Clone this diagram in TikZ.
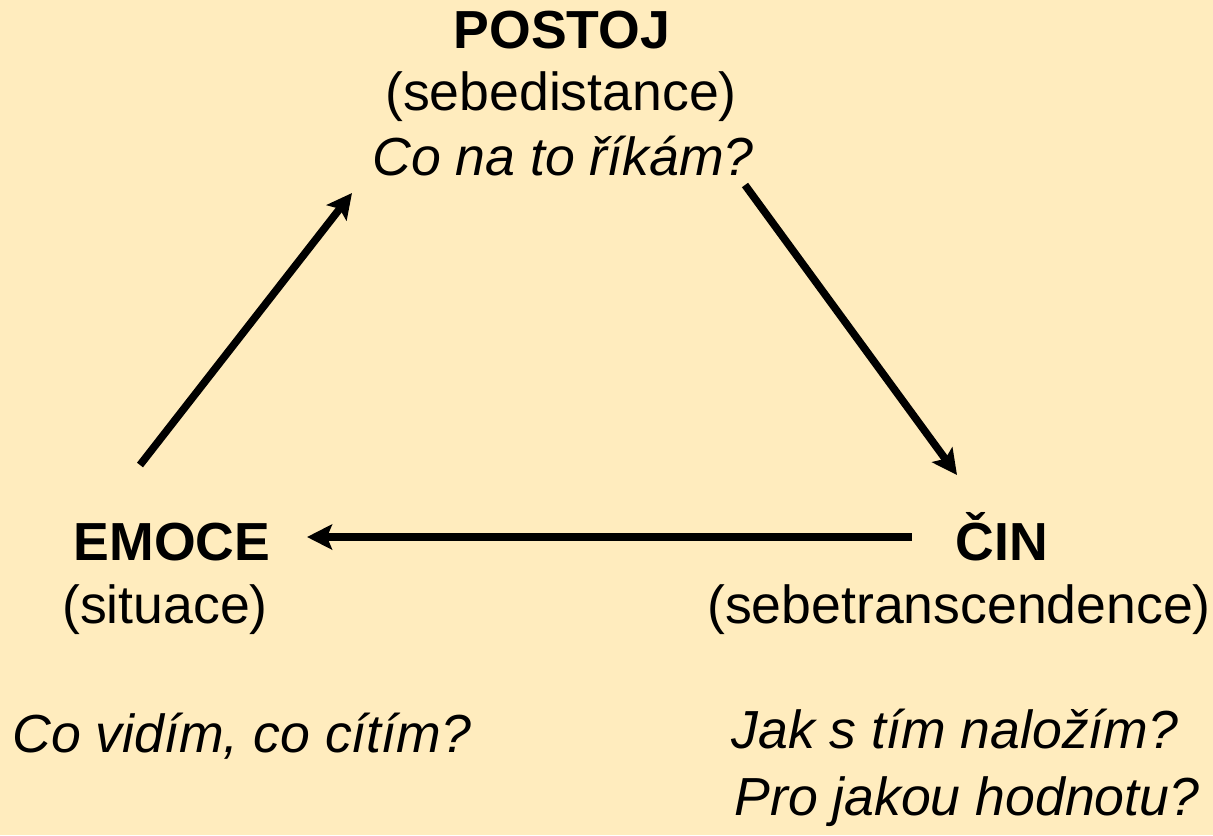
\documentclass[tikz,border=0pt]{standalone}
\usepackage{fontspec}
\setmainfont{Liberation Sans}
\usepackage{tikz}
\usetikzlibrary{arrows.meta}

\definecolor{paper}{HTML}{FFECBE}

\tikzset{
  lbl/.style = {anchor = base, inner sep = 0pt, font = \fontsize{26.8}{31}\selectfont},
  head/.style = {lbl, font = \fontsize{26.8}{31}\selectfont\bfseries},
  ask/.style = {lbl, font = \fontsize{26.8}{31}\selectfont\itshape},
  flow/.style = {line width = 3.8pt, -{Stealth[length = 12.5pt, width = 12.5pt, inset = 2.5pt]}}
}

\begin{document}
\begin{tikzpicture}[x = 0.5pt, y = -0.5pt]
\fill[paper] (0,0) rectangle (1213,835);
\useasboundingbox (0,0) rectangle (1213,835);

% top
\node[head] (postoj) at (562, 48) {POSTOJ};
\node[lbl] (postojsub) at (561, 110) {(sebedistance)};
\node[ask] (postojask) at (563, 175) {Co na to říkám?};

% left
\node[head] (emoce) at (172, 560) {EMOCE};
\node[lbl] (emocesub) at (165, 623) {(situace)};
\node[ask, anchor = base west] (emoceask) at (12, 752) {Co vidím, co cítím?};

% right
\node[head] (cin) at (1002, 560) {ČIN};
\node[lbl] (cinsub) at (959, 623) {(sebetranscendence)};
\node[ask, anchor = base west] (cinask) at (731, 748) {Jak s tím naložím?};
\node[ask, anchor = base west] (cinhod) at (734, 815) {Pro jakou hodnotu?};

\coordinate (el) at (140, 465);
\coordinate (pl) at (352, 193);
\coordinate (pr) at (745, 185);
\coordinate (cr) at (957, 475);
\coordinate (cl) at (912, 537);
\coordinate (er) at (307, 537);

\draw[flow] (el) -- (pl);
\draw[flow] (pr) -- (cr);
\draw[flow] (cl) -- (er);
\end{tikzpicture}
\end{document}
